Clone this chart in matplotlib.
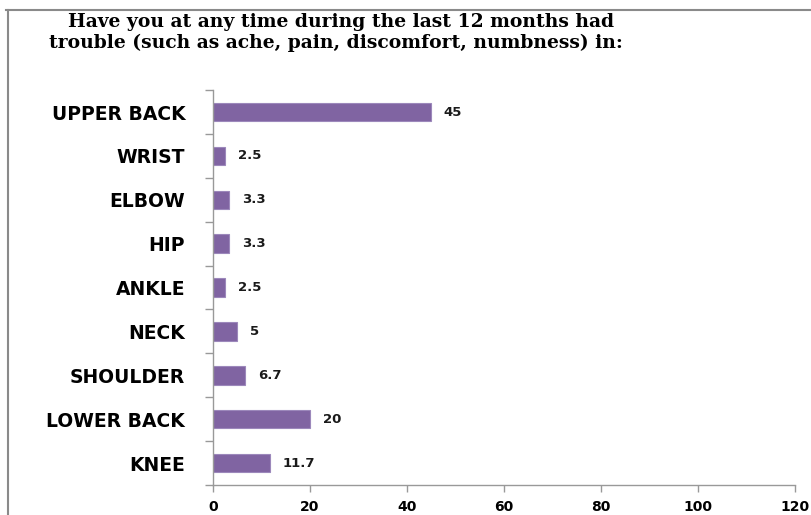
import matplotlib.pyplot as plt
from matplotlib.lines import Line2D

# Body regions, listed top to bottom as shown
regions = ["UPPER BACK", "WRIST", "ELBOW", "HIP", "ANKLE",
           "NECK", "SHOULDER", "LOWER BACK", "KNEE"]
percent = [45, 2.5, 3.3, 3.3, 2.5, 5, 6.7, 20, 11.7]
value_text = ["45", "2.5", "3.3", "3.3", "2.5", "5", "6.7", "20", "11.7"]
x_ticks = [0, 20, 40, 60, 80, 100, 120]

fig = plt.figure(figsize=(8.12, 5.15), dpi=100)
ax = fig.add_axes([0.2623, 0.0583, 0.7167, 0.7667])

y = list(range(len(regions)))[::-1]
ax.barh(y, percent, height=0.42, color="#8064A2", edgecolor="#9c88bb", linewidth=0.8)

for yi, v, t in zip(y, percent, value_text):
    ax.text(v + 2.6, yi, t, ha="left", va="center",
            fontsize=9.5, fontweight="bold", color="#1a1a1a")

ax.set_xlim(0, 120)
ax.set_ylim(-0.5, len(regions) - 0.5)
ax.set_xticks(x_ticks)
ax.set_xticklabels([str(t) for t in x_ticks], fontsize=10, fontweight="bold")
ax.set_yticks(y)
ax.set_yticklabels(regions, fontsize=13.5, fontweight="bold")

# Tick marks sit between categories, labels stay centred on bars
ax.set_yticks([i - 0.5 for i in range(len(regions) + 1)], minor=True)
ax.tick_params(axis="y", which="major", length=0, pad=20)
ax.tick_params(axis="y", which="minor", length=6, color="#999999", width=1)
ax.tick_params(axis="x", length=5, color="#999999", width=1, pad=6)

for side in ["top", "right"]:
    ax.spines[side].set_visible(False)
for side in ["left", "bottom"]:
    ax.spines[side].set_color("#999999")
    ax.spines[side].set_linewidth(1)

fig.text(0.084, 0.957,
         "Have you at any time during the last 12 months had",
         fontsize=13.5, fontweight="bold", family="DejaVu Serif",
         ha="left", va="center")
fig.text(0.06, 0.916,
         "trouble (such as ache, pain, discomfort, numbness) in:",
         fontsize=13.5, fontweight="bold", family="DejaVu Serif",
         ha="left", va="center")

# Outer border along the top and left edges
fig.add_artist(Line2D([0.007, 1.0], [0.981, 0.981], transform=fig.transFigure,
                      color="#8a8a8a", linewidth=1.5))
fig.add_artist(Line2D([0.0095, 0.0095], [0.0, 0.981], transform=fig.transFigure,
                      color="#8a8a8a", linewidth=1.5))

fig.savefig("out.png", dpi=100)
